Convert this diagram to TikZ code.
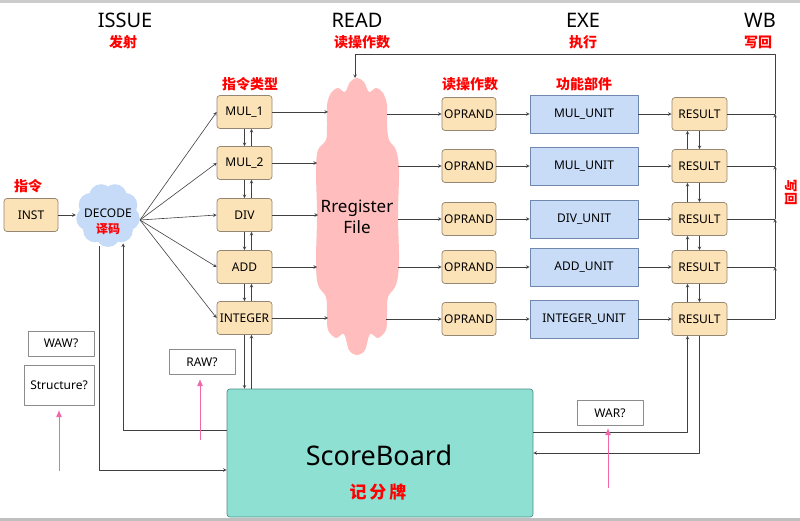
\documentclass[tikz,border=0pt]{standalone}
\usepackage{fontspec}
\setmainfont{Noto Sans}
\newfontfamily\cjk{Noto Sans CJK SC}
\usetikzlibrary{arrows.meta}
\begin{document}
\begin{tikzpicture}[x=1pt,y=-1pt,>=stealth,font=\fontsize{12}{14}\selectfont,line join=round]
\def\rfoutline{plot[smooth cycle, tension=0.55] coordinates {(357,78) (364,82) (369,92) (376,88)
	(383,93) (387,105) (387,125) (389,140) (396,150) (399,170) (398,215)
	(399,262) (396,285) (388,297) (387,315) (386,330) (378,338) (370,334) (365,350) (357,355)
	(349,350) (344,334) (336,338) (328,330) (327,315) (326,297) (318,285) (316,262)
	(317,215) (316,170) (318,150) (326,140) (327,125) (327,105) (331,93) (338,88)
	(345,92) (350,82)}}
\colorlet{wire col}{black!75}
\definecolor{kind fill}{HTML}{FCE2B7}
\definecolor{kind edge}{HTML}{948672}
\definecolor{unit fill}{HTML}{C8DCF8}
\definecolor{unit edge}{HTML}{7088AE}
\definecolor{dec fill}{HTML}{C6DBF8}
\definecolor{rf fill}{HTML}{FFBDBD}
\definecolor{sb fill}{HTML}{8EE0D2}
\definecolor{sb edge}{HTML}{4F8E88}
\definecolor{pink col}{HTML}{F068A8}
\tikzset{kind/.style={draw=kind edge, fill=kind fill, rounded corners=3pt, line width=0.7pt,
		minimum width=55, minimum height=33, inner sep=1pt},
	unit/.style={draw=unit edge, fill=unit fill, line width=0.7pt, minimum width=108, minimum height=38},
	ask/.style={draw=black!45, fill=white, line width=0.7pt, minimum width=66, minimum height=25},
	hint/.style={text=red, font=\cjk\bfseries\fontsize{14}{16}\selectfont},
	stage/.style={font=\fontsize{20}{24}\selectfont},
	wire/.style={draw=wire col, line width=0.6pt},
	pinkup/.style={draw=pink col, line width=1pt, -{Latex[length=7pt,width=6pt]}}}
\useasboundingbox (0,0) rectangle (800,521);
\fill[black!20] (0,0) rectangle (800,3);
\fill[black!25] (0,518) rectangle (800,521);
% stages
\node[stage] (issue) at (125,20) {ISSUE};
\node[hint] (issuecn) at (123,42) {发射};
\node[stage] (read) at (357,20) {READ};
\node[hint] (readcn) at (362,42) {读操作数};
\node[stage] (exe) at (583,20) {EXE};
\node[hint] (execn) at (583,42) {执行};
\node[stage] (wb) at (760,20) {WB};
\node[hint] (wbcn) at (758,42) {写回};
\node[hint] (kindcn) at (250,84) {指令类型};
\node[hint] (oprcn) at (470,84) {读操作数};
\node[hint] (unitcn) at (584,84) {功能部件};
\node[hint] (instcn) at (28,186) {指令};
\node[hint, rotate=-90, font=\cjk\bfseries\fontsize{13}{15}\selectfont] (wbside) at (791,193) {写回};
% issue
\node[kind, minimum width=54] (inst) at (31,215) {INST};
\node[circle, minimum size=64, inner sep=0pt] (dec) at (108,215) {};
\fill[dec fill] (dec) circle (20);
\foreach \a in {10,50,...,330}
	\fill[dec fill] (dec) ++(\a:20) circle (12);
\node[align=center, font=\fontsize{12}{16}\selectfont] (dectxt) at (108,222) {DECODE\\{\cjk\bfseries\color{red}译码}};
\coordinate (decout) at (140,220);
\draw[wire,->] (inst) -- (dec);
\foreach \name/\txt/\y in {mul1/MUL\_1/112, mul2/MUL\_2/163, div/DIV/215, add/ADD/267, int/INTEGER/318}
	\node[kind] (\name) at (244.5,\y) {\txt};
\foreach \b in {mul1,mul2,div,add,int}
	\draw[wire,->] (decout) -- (\b.west);
\foreach \a/\b in {mul1/mul2,mul2/div,div/add,add/int}{
	\draw[wire,->] (\a.south) -- (\b.north);
	\draw[wire,->] ([xshift=7pt]\b.north) -- ([xshift=7pt]\a.south);
}
% read
\fill[rf fill] \rfoutline;
\node[align=center, font=\fontsize{17}{21}\selectfont] (rf) at (357,217) {Rregister\\File};
\coordinate (rftop) at (355,78);
\foreach \name/\x/\y in {mul1/328/112, mul2/317/163, div/318/215, add/317/267, int/328/318}{
	\coordinate (rfin\name) at (\x,\y);
	\draw[wire,->] (\name.east) -- (rfin\name);
}
\foreach \i/\x/\y/\u in {1/387/114/MUL\_UNIT, 2/398/166/MUL\_UNIT, 3/398/219/DIV\_UNIT, 4/398/267/ADD\_UNIT, 5/386/319/INTEGER\_UNIT}{
	\coordinate (rfout\i) at (\x,\y);
	\node[kind, minimum width=54] (opr\i) at (469,\y) {OPRAND};
	\node[unit] (unit\i) at (584,\y) {\u};
	\node[kind] (res\i) at (699.5,\y) {RESULT};
	\coordinate (wb\i) at (775,\y);
	\draw[wire,->] (rfout\i) -- (opr\i);
	\draw[wire,->] (opr\i) -- (unit\i);
	\draw[wire,->] (unit\i) -- (res\i);
	\draw[wire] (res\i) -- (wb\i);
}
\foreach \a/\b in {1/2,2/3,3/4,4/5}{
	\draw[wire,->] (res\a.south) -- (res\b.north);
	\draw[wire,->] ([xshift=-12pt]res\b.north) -- ([xshift=-12pt]res\a.south);
	\draw[wire,->] (wb\b) -- (wb\a);
}
\coordinate (wbtop) at (775,54);
\draw[wire,->] (wb1) -- (wbtop) -| (rftop);
% scoreboard
\node[draw=sb edge, fill=sb fill, rounded corners=3pt, line width=0.7pt, minimum width=306,
	minimum height=128] (sb) at (380,453) {};
\node[font=\fontsize{27}{30}\selectfont] (sbtitle) at (379,455) {ScoreBoard};
\node[text=red, font=\cjk\bfseries\fontsize{17}{20}\selectfont] (sbcn) at (378,492) {记\,分\,牌};
\coordinate (intup) at ([xshift=7pt]int.south);
\draw[wire,->] (int.south) -- (int.south |- sb.north);
\draw[wire,->] (intup |- sb.north) -- (intup);
\draw[wire,->] (dec.-105) |- ([yshift=-17pt]sb.west);
\draw[wire,->] ([yshift=23pt]sb.west) -| (dec.-62);
\draw[wire,->] ([yshift=21pt]sb.east) -| ([xshift=-12pt]res5.south);
\draw[wire,->] (res5.south) |- (sb.east);
% hazards
\node[ask] (waw) at (61,343.5) {WAW?};
\node[ask, minimum width=70, minimum height=40] (struct) at (59,385) {Structure?};
\node[ask] (raw) at (202,362) {RAW?};
\node[ask] (war) at (610,413) {WAR?};
\coordinate (structlow) at (59,471);
\coordinate (rawlow) at (200,440);
\coordinate (warlow) at (608,488);
\draw[pinkup] (structlow) -- (structlow |- 0,410);
\draw[pinkup] (rawlow) -- (rawlow |- 0,379);
\draw[pinkup] (warlow) -- (warlow |- 0,428);
\end{tikzpicture}
\end{document}
